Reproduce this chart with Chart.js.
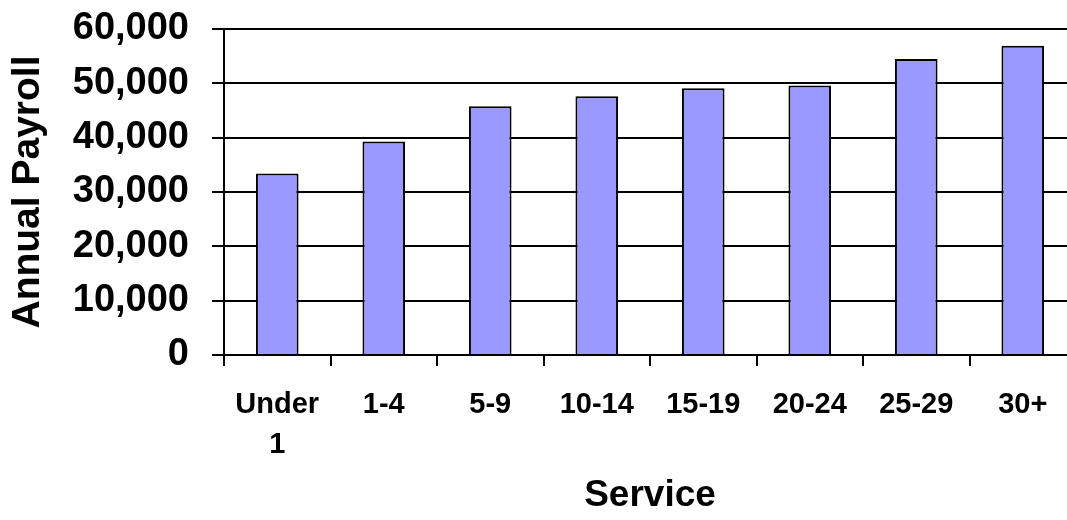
<!DOCTYPE html>
<html>
<head>
<meta charset="utf-8">
<script src="https://cdn.jsdelivr.net/npm/chart.js@4/dist/chart.umd.min.js"></script>
<style>
  html, body { margin: 0; padding: 0; background: #fff; overflow: hidden; }
  #wrap { width: 1090px; height: 520px; }
</style>
</head>
<body>
<div id="wrap"><canvas id="payChart" width="1090" height="520"></canvas></div>
<script>
// --- Data ---
const serviceGroups = [['Under', '1'], '1-4', '5-9', '10-14', '15-19', '20-24', '25-29', '30+'];
const annualPayroll = [33400, 39300, 45800, 47600, 49100, 49600, 54500, 56900];
const yTicks = [0, 10000, 20000, 30000, 40000, 50000, 60000];

const FONT = '"Liberation Sans", Arial, sans-serif';

const ctx = document.getElementById('payChart').getContext('2d');
new Chart(ctx, {
    type: 'bar',
    data: {
        labels: serviceGroups,
        datasets: [{
            data: annualPayroll,
            backgroundColor: '#9999ff',
            borderColor: '#000',
            borderWidth: 2,
            categoryPercentage: 1,
            barPercentage: 0.4
        }]
    },
    options: {
        responsive: false,
        animation: false,
        layout: { padding: { top: 29, right: 14, bottom: 0, left: 0 } },
        plugins: { legend: { display: false }, tooltip: { enabled: false } },
        scales: {
            x: {
                afterFit: s => { s.height = 165; },
                grid: { drawOnChartArea: false, color: '#000', lineWidth: 2, tickLength: 11 },
                border: { color: '#000', width: 2 },
                ticks: {
                    color: '#000', padding: 19, maxRotation: 0, autoSkip: false,
                    font: { family: FONT, size: 29, weight: 'bold', lineHeight: 1.38 }
                },
                title: {
                    display: true, text: 'Service', color: '#000',
                    padding: { top: 0, bottom: 2 },
                    font: { family: FONT, size: 37, weight: 'bold' }
                }
            },
            y: {
                min: 0, max: 60000,
                // keep the plot top at the 60,000 line
                afterFit: s => { s.width = 224; s.paddingTop = 0; s.paddingBottom = 0; },
                afterBuildTicks: s => { s.ticks = yTicks.map(v => ({ value: v })); },
                grid: { color: '#000', lineWidth: 2, tickLength: 12 },
                border: { color: '#000', width: 2 },
                ticks: {
                    color: '#000', padding: 23,
                    font: { family: FONT, size: 38, weight: 'bold' },
                    callback: v => v.toLocaleString('en-US')
                },
                title: {
                    display: true, text: 'Annual Payroll', color: '#000',
                    padding: { top: 5, bottom: 0 },
                    font: { family: FONT, size: 39, weight: 'bold' }
                }
            }
        }
    }
});
</script>
</body>
</html>
